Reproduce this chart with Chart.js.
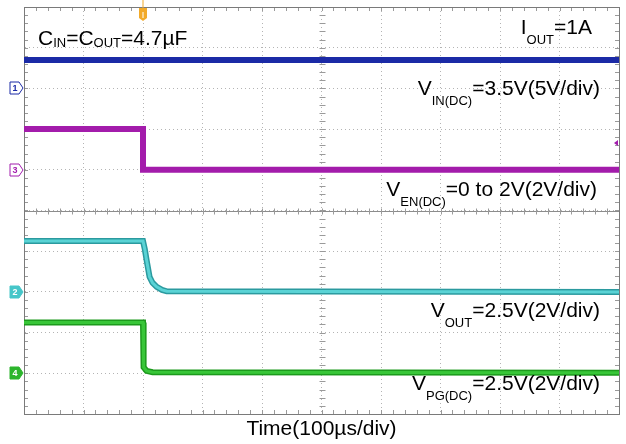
<!DOCTYPE html>
<html>
<head>
<meta charset="utf-8">
<script src="https://cdn.jsdelivr.net/npm/chart.js@4.4.1/dist/chart.umd.min.js"></script>
<style>
  html, body { margin: 0; padding: 0; background: #ffffff; }
  canvas { display: block; }
</style>
</head>
<body>
<canvas id="scope" width="626" height="444"></canvas>
<script>
// Time base: 100 µs/div, 10 div across, trigger at 200 µs
const vinTime = [0, 200, 1000];
const vinVolts = [3.5, 3.5, 3.5];

const enTime = [0, 200, 200, 1000];
const enVolts = [2, 2, 0, 0];

const voutTime = [0, 200, 203, 206, 211, 216, 223, 232, 240, 1000];
const voutVolts = [2.5, 2.5, 2.1, 1.57, 0.74, 0.45, 0.25, 0.1, 0.03, 0];

const pgTime = [0, 200, 201, 206, 216, 1000];
const pgVolts = [2.5, 2.5, 0.3, 0.12, 0.05, 0.03];

// Channel ground level (div from bottom) and volts per div, order: CH1, CH3, CH2, CH4
const chNames = ['1', '3', '2', '4'];
const chOffsets = [8, 6, 3, 1];
const chScales = [5, 2, 2, 2];
const chColors = ['#1b2aa6', '#a21cad', '#46c6c9', '#2cb52c'];

const FONT = '"Liberation Sans", Arial, Helvetica, sans-serif';

function toDiv(times, volts, ch) {
	return times.map((t, i) => ({ x: t, y: chOffsets[ch] + volts[i] / chScales[ch] }));
}

function trace(times, volts, ch, color, width) {
	return {
		data: toDiv(times, volts, ch),
		borderColor: color,
		borderWidth: width,
		pointRadius: 0,
		tension: 0,
		fill: false
	};
}

// Chart.js paints dataset 0 last, so the light cores come before their dark edges
const datasets = [
	trace(vinTime, vinVolts, 0, '#1b2aa6', 6),
	trace(enTime, enVolts, 1, '#a31cab', 6),
	trace(voutTime, voutVolts, 2, '#5ad3d5', 3),
	trace(voutTime, voutVolts, 2, '#2b9a9f', 6),
	trace(pgTime, pgVolts, 3, '#38c638', 3),
	trace(pgTime, pgVolts, 3, '#1c9a1c', 6)
];

// text pieces: [text, isSub]
const labels = [
	{ right: 592, y: 34, parts: [['I', false], ['OUT', true], ['=1A', false]] },
	{ right: 600, y: 95, parts: [['V', false], ['IN(DC)', true], ['=3.5V(5V/div)', false]] },
	{ right: 597, y: 196, parts: [['V', false], ['EN(DC)', true], ['=0 to 2V(2V/div)', false]] },
	{ right: 600, y: 317, parts: [['V', false], ['OUT', true], ['=2.5V(2V/div)', false]] },
	{ right: 600, y: 390, parts: [['V', false], ['PG(DC)', true], ['=2.5V(2V/div)', false]] }
];
const capLabel = [['C', false], ['IN', true], ['=C', false], ['OUT', true], ['=4.7µF', false]];
const timeLabel = 'Time(100µs/div)';

function setFont(ctx, sub) {
	ctx.font = (sub ? '13px ' : '21px ') + FONT;
}

function drawParts(ctx, parts, x, y, subDy) {
	let cx = x;
	parts.forEach(([text, sub]) => {
		setFont(ctx, sub);
		ctx.fillText(text, cx, sub ? y + subDy : y);
		cx += ctx.measureText(text).width;
	});
}

function partsWidth(ctx, parts) {
	let w = 0;
	parts.forEach(([text, sub]) => {
		setFont(ctx, sub);
		w += ctx.measureText(text).width;
	});
	return w;
}

const scopePlugin = {
	id: 'scope',
	beforeDatasetsDraw(chart) {
		const ctx = chart.ctx;
		const a = chart.chartArea;
		const xs = chart.scales.x;
		const ys = chart.scales.y;
		ctx.save();
		ctx.strokeStyle = '#8c8c8c';
		ctx.lineWidth = 1;
		// centre horizontal line
		const cy = Math.round(ys.getPixelForValue(5)) + 0.5;
		ctx.beginPath();
		ctx.moveTo(a.left, cy);
		ctx.lineTo(a.right, cy);
		ctx.stroke();
		// minor ticks every 0.2 div
		ctx.strokeStyle = '#9a9a9a';
		ctx.beginPath();
		for (let t = 20; t < 1000; t += 20) {
			const px = Math.round(xs.getPixelForValue(t)) + 0.5;
			ctx.moveTo(px, cy - 3); ctx.lineTo(px, cy + 3);
			ctx.moveTo(px, a.top); ctx.lineTo(px, a.top + 4);
			ctx.moveTo(px, a.bottom); ctx.lineTo(px, a.bottom - 4);
		}
		const cx = Math.round(xs.getPixelForValue(500)) + 0.5;
		for (let d = 0.2; d < 10; d += 0.2) {
			const py = Math.round(ys.getPixelForValue(d)) + 0.5;
			ctx.moveTo(cx - 3, py); ctx.lineTo(cx + 3, py);
			ctx.moveTo(a.left, py); ctx.lineTo(a.left + 4, py);
			ctx.moveTo(a.right, py); ctx.lineTo(a.right - 4, py);
		}
		ctx.stroke();
		// frame
		ctx.strokeStyle = '#7a7a7a';
		ctx.strokeRect(Math.round(a.left) + 0.5, Math.round(a.top) + 0.5,
			Math.round(a.right - a.left), Math.round(a.bottom - a.top));
		ctx.restore();
	},
	afterDraw(chart) {
		const ctx = chart.ctx;
		const a = chart.chartArea;
		const xs = chart.scales.x;
		const ys = chart.scales.y;
		ctx.save();

		// channel ground markers
		chNames.forEach((name, i) => {
			const py = Math.round(ys.getPixelForValue(chOffsets[i]));
			const filled = i >= 2;
			ctx.beginPath();
			ctx.moveTo(10, py - 6);
			ctx.lineTo(19, py - 6);
			ctx.lineTo(23, py);
			ctx.lineTo(19, py + 6);
			ctx.lineTo(10, py + 6);
			ctx.closePath();
			ctx.fillStyle = filled ? chColors[i] : '#ffffff';
			ctx.fill();
			ctx.strokeStyle = chColors[i];
			ctx.lineWidth = 1;
			ctx.stroke();
			ctx.fillStyle = filled ? '#ffffff' : chColors[i];
			ctx.font = 'bold 9px ' + FONT;
			ctx.textAlign = 'center';
			ctx.textBaseline = 'middle';
			ctx.fillText(name, 15, py + 0.5);
		});
		ctx.textAlign = 'left';
		ctx.textBaseline = 'alphabetic';

		// trigger position marker
		const tx = Math.round(xs.getPixelForValue(200));
		ctx.fillStyle = '#f2aa2a';
		ctx.beginPath();
		ctx.moveTo(tx - 4, a.top + 1);
		ctx.lineTo(tx + 4, a.top + 1);
		ctx.lineTo(tx + 4, a.top + 11);
		ctx.lineTo(tx, a.top + 14);
		ctx.lineTo(tx - 4, a.top + 11);
		ctx.closePath();
		ctx.fill();
		ctx.fillStyle = '#ffffff';
		ctx.fillRect(tx - 0.5, a.top + 5, 1, 6);
		ctx.fillStyle = '#f2aa2a';
		ctx.fillRect(tx - 0.5, 0, 1, a.top + 1);

		// trigger level arrow for CH3 on right edge
		const ly = Math.round(ys.getPixelForValue(chOffsets[1] + 1 / chScales[1] * 1.3));
		ctx.fillStyle = chColors[1];
		ctx.beginPath();
		ctx.moveTo(a.right - 5, ly);
		ctx.lineTo(a.right - 1, ly - 3);
		ctx.lineTo(a.right - 1, ly + 3);
		ctx.closePath();
		ctx.fill();

		// annotations
		ctx.fillStyle = '#000000';
		drawParts(ctx, capLabel, 38, 45, 2);
		labels.forEach(l => {
			const w = partsWidth(ctx, l.parts);
			drawParts(ctx, l.parts, l.right - w, l.y, 10);
		});
		ctx.font = '21px ' + FONT;
		ctx.textAlign = 'center';
		ctx.fillText(timeLabel, (a.left + a.right) / 2, 435);
		ctx.restore();
	}
};

new Chart(document.getElementById('scope').getContext('2d'), {
	type: 'line',
	data: { datasets: datasets },
	options: {
		responsive: false,
		animation: false,
		events: [],
		layout: { padding: { left: 24, top: 7, right: 7, bottom: 30 } },
		plugins: {
			legend: { display: false },
			tooltip: { enabled: false }
		},
		scales: {
			x: {
				type: 'linear',
				min: 0,
				max: 1000,
				ticks: { display: false, stepSize: 100 },
				grid: { display: true, drawOnChartArea: true, color: '#b4b4b4', lineWidth: 1, drawTicks: false },
				border: { display: true, color: '#7a7a7a', dash: [1, 3] }
			},
			y: {
				type: 'linear',
				min: 0,
				max: 10,
				ticks: { display: false, stepSize: 1 },
				grid: { display: true, drawOnChartArea: true, color: '#b4b4b4', lineWidth: 1, drawTicks: false },
				border: { display: true, color: '#7a7a7a', dash: [1, 3] }
			}
		}
	},
	plugins: [scopePlugin]
});
</script>
</body>
</html>
